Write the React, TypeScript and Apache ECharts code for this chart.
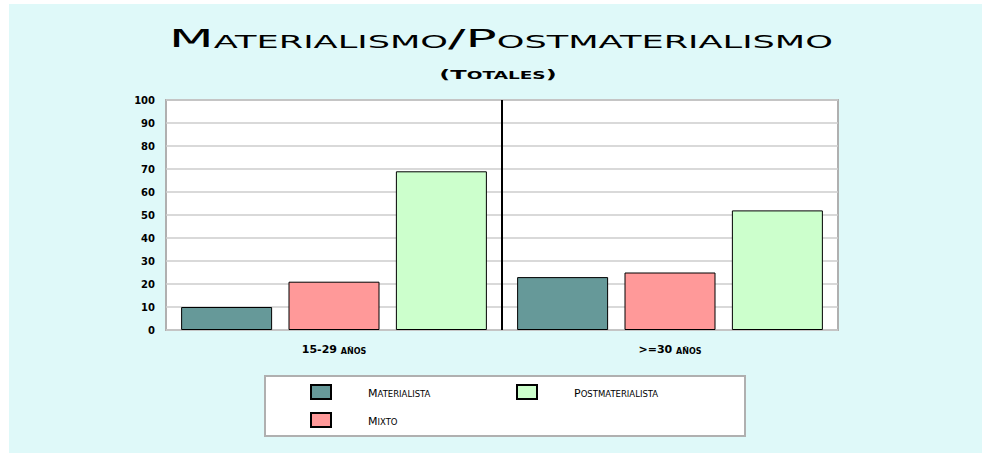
import React, { useEffect, useRef } from "react";
import * as echarts from "echarts";

const titleText = "Materialismo/Postmaterialismo";
const subtitleText = "(Totales)";
const categories = ["15-29 años", ">=30 años"];
const seriesNames = ["Materialista", "Mixto", "Postmaterialista"];
const materialista = [10, 23];
const mixto = [21, 25];
const postmaterialista = [69, 52];
const seriesColors = ["#669999", "#ff9999", "#ccffcc"];
const legendOrder = ["Materialista", "Postmaterialista", "Mixto"];

const FONT = "DejaVu Sans";

type Part = { t: string; text: string };

// split text into runs: lowercase letters become small capitals
function smallCapsParts(s: string): Part[] {
  const parts: Part[] = [];
  for (const ch of s) {
    const isLower = ch !== ch.toUpperCase();
    const t = isLower ? "s" : "b";
    const c = isLower ? ch.toUpperCase() : ch;
    if (parts.length && parts[parts.length - 1].t === t) parts[parts.length - 1].text += c;
    else parts.push({ t, text: c });
  }
  return parts;
}

function smallCaps(s: string): string {
  return smallCapsParts(s)
    .map((p) => "{" + p.t + "|" + p.text + "}")
    .join("");
}

let measureCtx: CanvasRenderingContext2D | null = null;
function measure(text: string, size: number, weight: string): number {
  if (!measureCtx) measureCtx = document.createElement("canvas").getContext("2d");
  if (!measureCtx) return text.length * size * 0.7;
  measureCtx.font = `${weight} ${size}px "${FONT}"`;
  return measureCtx.measureText(text).width;
}

function richPair(big: number, small: number, weight: string = "normal", lh?: number) {
  const lineHeight = lh ?? Math.round(big * 1.2);
  return {
    b: { fontFamily: FONT, fontSize: big, fontWeight: weight, color: "#000", verticalAlign: "bottom", lineHeight },
    s: { fontFamily: FONT, fontSize: small, fontWeight: weight, color: "#000", verticalAlign: "bottom", lineHeight },
  };
}

export default function App() {
  const ref = useRef<HTMLDivElement>(null);
  useEffect(() => {
    document.body.style.margin = "0";
    if (!ref.current) return;
    const chart = echarts.init(ref.current, undefined, { renderer: "svg" });
    const values = [materialista, mixto, postmaterialista];

    // legend: fixed-width labels so that two items share a row
    const LEG_BIG = 11;
    const LEG_SMALL = 8.5;
    const LABEL_W = 136;
    const legendRich: any = richPair(LEG_BIG, LEG_SMALL, "normal", 13);
    const legendLabels: Record<string, string> = {};
    legendOrder.forEach((name, i) => {
      const parts = smallCapsParts(name);
      const w = parts.reduce(
        (acc, p) => acc + measure(p.text, p.t === "b" ? LEG_BIG : LEG_SMALL, "normal"),
        0
      );
      legendRich["p" + i] = { width: Math.max(1, LABEL_W - w), fontSize: LEG_SMALL, lineHeight: 13 };
      legendLabels[name] = smallCaps(name) + "{p" + i + "| }";
    });

    chart.setOption({
      animation: false,
      backgroundColor: "#ffffff",
      graphic: [
        {
          type: "rect",
          z: -10,
          shape: { x: 9, y: 4, width: 973, height: 449 },
          style: { fill: "#dff9f9" },
        },
        {
          type: "text",
          x: 501,
          y: 36,
          scaleX: 2.07,
          z: 10,
          style: {
            text: smallCaps(titleText),
            rich: richPair(25, 17, "normal", 30),
            align: "center",
            verticalAlign: "middle",
          },
        },
        {
          type: "text",
          x: 498,
          y: 73,
          scaleX: 1.85,
          z: 10,
          style: {
            text: smallCaps(subtitleText),
            rich: richPair(13, 10, "bold", 16),
            align: "center",
            verticalAlign: "middle",
          },
        },
      ],
      grid: {
        left: 166,
        right: 145,
        top: 100,
        bottom: 123,
        show: true,
        backgroundColor: "#ffffff",
        borderColor: "#b0b0b0",
        borderWidth: 2,
      },
      legend: {
        data: legendOrder,
        left: 265,
        top: 376,
        width: 430,
        padding: [8, 35, 8, 45],
        itemWidth: 20,
        itemHeight: 14,
        itemGap: 12,
        icon: "rect",
        backgroundColor: "#ffffff",
        borderColor: "#b0b0b0",
        borderWidth: 2,
        formatter: (name: string) => legendLabels[name] ?? name,
        textStyle: {
          padding: [0, 0, 0, 32],
          rich: legendRich,
        },
      },
      xAxis: {
        type: "category",
        data: categories,
        axisLine: { show: false },
        axisTick: { show: false },
        splitLine: {
          show: true,
          showMinLine: false,
          showMaxLine: false,
          lineStyle: { color: "#000000", width: 2 },
        },
        axisLabel: {
          margin: 12,
          formatter: (v: string) => smallCaps(v),
          rich: richPair(11, 8, "bold", 13),
        },
      },
      yAxis: {
        type: "value",
        min: 0,
        max: 100,
        interval: 10,
        axisLine: { show: false },
        axisTick: { show: false },
        splitLine: { lineStyle: { color: "#cccccc", width: 1.5 } },
        axisLabel: {
          margin: 11,
          fontFamily: FONT,
          fontWeight: "bold",
          fontSize: 10,
          color: "#000",
        },
      },
      series: seriesNames.map((name, i) => ({
        name,
        type: "bar",
        data: values[i],
        barGap: "18%",
        barCategoryGap: "9%",
        itemStyle: { color: seriesColors[i], borderColor: "#000", borderWidth: 1 },
      })),
    });
    return () => chart.dispose();
  }, []);
  return <div ref={ref} style={{ width: 983, height: 453 }} />;
}
